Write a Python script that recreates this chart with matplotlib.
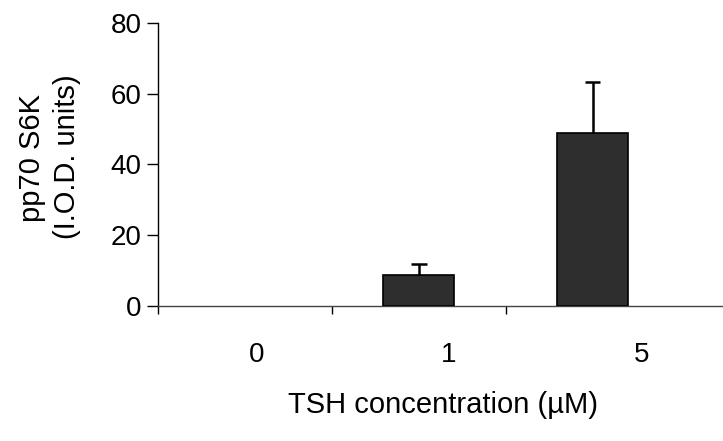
import matplotlib
matplotlib.use("Agg")
import matplotlib.pyplot as plt
import matplotlib.transforms as mtrans
import numpy as np

plt.rcParams['font.family'] = ['Liberation Sans', 'DejaVu Sans']

categories = ["0", "1", "5"]
values = [0.0, 8.7, 48.9]
errors = [0.0, 3.2, 14.4]
yticks = [0, 20, 40, 60, 80]

fig = plt.figure(figsize=(7.23, 4.41), dpi=100)
ax = fig.add_axes([158/723, 1-306/441, 1-158/723, (306-22.7)/441])

x = np.arange(len(categories))
ax.bar(x[1:], values[1:], width=0.41, color='#2e2e2e', edgecolor='black', linewidth=1.2, zorder=3)
for xi, v, e in zip(x[1:], values[1:], errors[1:]):
    ax.vlines(xi, v, v + e, color='black', linewidth=1.8, zorder=4)
    ax.hlines(v + e, xi - 0.045, xi + 0.045, color='black', linewidth=1.8, zorder=4)

ax.set_xlim(-0.5, 2.75)
ax.set_ylim(0, 80)
ax.set_yticks(yticks)
ax.set_yticklabels([str(t) for t in yticks], fontsize=20)
ax.tick_params(axis='y', direction='out', length=8, width=1, pad=4)
ax.set_xticks([-0.5, 0.5, 1.5])
ax.set_xticklabels([])
ax.tick_params(axis='x', direction='out', length=6, width=1)
ax.spines['top'].set_visible(False)
ax.spines['right'].set_visible(False)
ax.spines['left'].set_linewidth(1)
ax.spines['bottom'].set_linewidth(1)
ax.spines['bottom'].set_color('#444444')

label_offsets = [0.07, 0.17, 0.28]
trans = mtrans.blended_transform_factory(ax.transData, fig.transFigure)
for xi, lab, off in zip(x, categories, label_offsets):
    ax.text(xi + off, 1 - 355/441, lab, transform=trans, fontsize=20,
            ha='center', va='center')

fig.text(443/723, 1-405/441, "TSH concentration (\u00b5M)", fontsize=21, ha='center', va='center')
fig.text(32/723, 1-158/441, "pp70 S6K", fontsize=21, rotation=90, ha='center', va='center')
fig.text(67/723, 1-157/441, "(I.O.D. units)", fontsize=21, rotation=90, ha='center', va='center')

fig.savefig("out.png", dpi=100)
